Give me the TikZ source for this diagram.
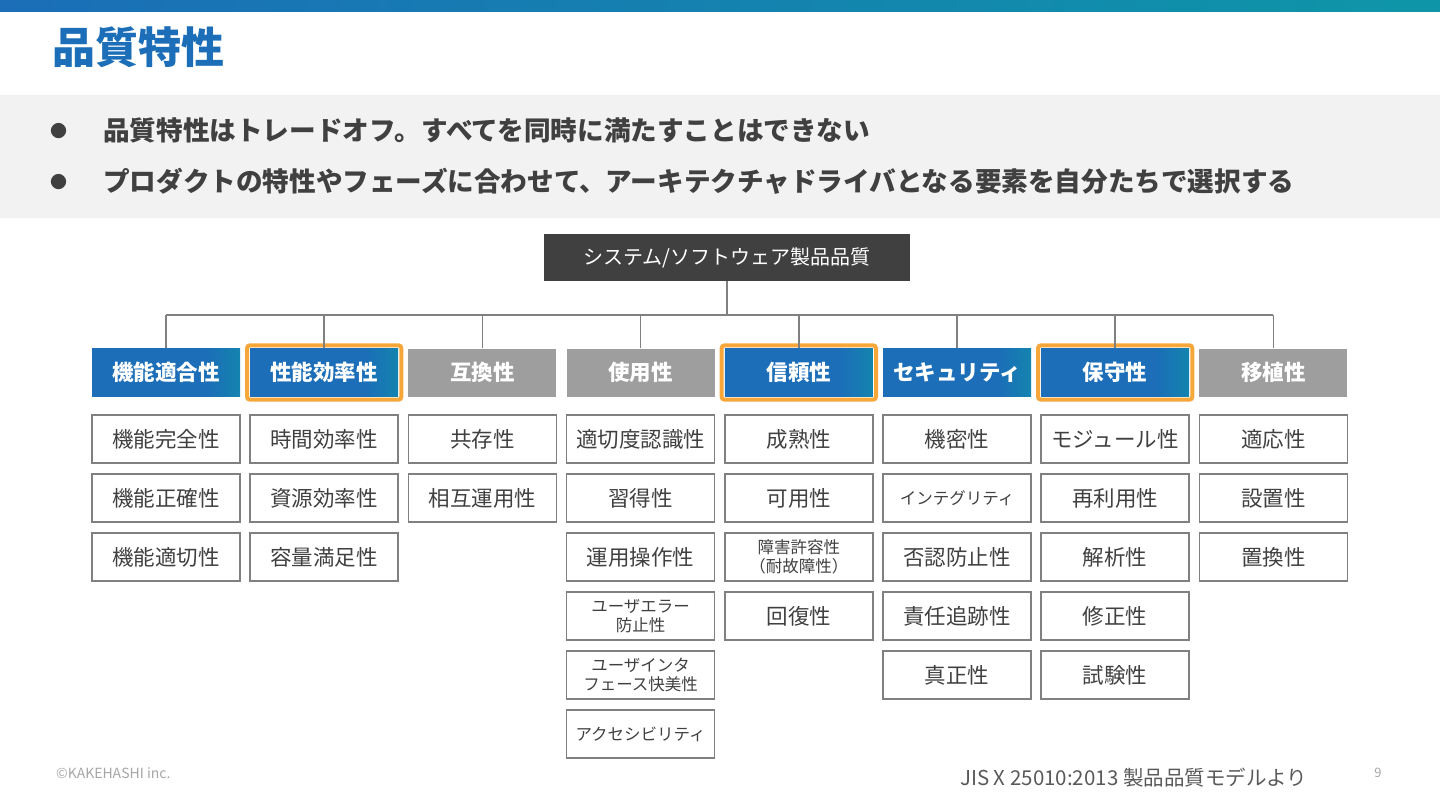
\documentclass[tikz,border=0pt]{standalone}
\usepackage{fontspec}
\setmainfont{Noto Sans CJK JP}
\definecolor{hb}{RGB}{27,110,183}
\definecolor{ht}{RGB}{14,150,168}
\definecolor{dg}{RGB}{64,64,64}
\definecolor{lg}{RGB}{128,128,128}
\definecolor{gh}{RGB}{158,158,158}
\definecolor{band}{RGB}{242,242,242}
\definecolor{org}{RGB}{247,166,58}
\definecolor{ft}{RGB}{166,166,166}
\definecolor{srcg}{RGB}{89,89,89}
\pgfdeclarehorizontalshading{hdrshade}{100bp}{color(0bp)=(hb); color(25bp)=(hb); color(64bp)=(hb); color(75bp)=(hb!45!ht); color(100bp)=(hb!45!ht)}
\begin{document}
\begin{tikzpicture}[x=1pt,y=-1pt,
  hdr/.style={minimum width=148pt,minimum height=48pt,inner sep=0pt,text=white,font=\fontsize{21.5}{24}\selectfont\bfseries},
  bluehdr/.style={hdr,shading=hdrshade},
  grayhdr/.style={hdr,fill=gh},
  sub/.style={draw=lg,line width=1.5pt,minimum width=148pt,minimum height=48pt,inner sep=0pt,text=dg,font=\fontsize{21.5}{24}\selectfont,align=center},
  subsm/.style={sub,font=\fontsize{16.5}{19.5}\selectfont},
  conn/.style={draw=lg,line width=1.5pt},
  hl/.style={draw=org,line width=4pt,rounded corners=3pt}]
\useasboundingbox (0,0) rectangle (1440,810);
% top bar
\shade[left color=hb,right color=ht] (0,0) rectangle (1440,12);
% title
\node[anchor=west,text=hb,font=\fontsize{43}{48}\selectfont\bfseries,inner sep=0pt] (title) at (52,47) {品質特性};
% band
\fill[band] (0,95) rectangle (1440,218);
\node[text=dg,font=\fontsize{17}{20}\selectfont,inner sep=0pt] (b1) at (58.5,131) {●};
\node[text=dg,font=\fontsize{17}{20}\selectfont,inner sep=0pt] (b2) at (58.5,182) {●};
\node[anchor=west,text=dg,font=\fontsize{26.6}{30}\selectfont\bfseries,inner sep=0pt] (t1) at (103,130) {品質特性はトレードオフ。すべてを同時に満たすことはできない};
\node[anchor=west,text=dg,font=\fontsize{26.6}{30}\selectfont\bfseries,inner sep=0pt] (t2) at (103,181) {プロダクトの特性やフェーズに合わせて、アーキテクチャドライバとなる要素を自分たちで選択する};
% root
\node[fill=dg,text=white,minimum width=366pt,minimum height=47pt,inner sep=0pt,font=\fontsize{20}{24}\selectfont] (root) at (727,257.5) {システム/ソフトウェア製品品質};
% headers
\node[bluehdr] (h1) at (166,372.5) {機能適合性};
\node[bluehdr] (h2) at (324.2,372.5) {性能効率性};
\node[grayhdr] (h3) at (482.4,372.5) {互換性};
\node[grayhdr] (h4) at (640.6,372.5) {使用性};
\node[bluehdr] (h5) at (798.8,372.5) {信頼性};
\node[bluehdr] (h6) at (957,372.5) {セキュリティ};
\node[bluehdr] (h7) at (1115.2,372.5) {保守性};
\node[grayhdr] (h8) at (1273.4,372.5) {移植性};
% highlights
\foreach \h in {h2,h5,h7}
  \draw[hl] ([xshift=-3pt,yshift=3pt]\h.north west) rectangle ([xshift=3pt,yshift=-3pt]\h.south east);
% connectors
\coordinate (bus) at (727,315);
\draw[conn] (root.south) -- (root.south |- bus);
\draw[conn] (h1.north |- bus) -- (h8.north |- bus);
\foreach \i in {1,...,8} \draw[conn] (h\i.north |- bus) -- (h\i.north);
% column 1
\node[sub] (s11) at (166,439) {機能完全性};
\node[sub] (s12) at (166,498) {機能正確性};
\node[sub] (s13) at (166,557) {機能適切性};
% column 2
\node[sub] (s21) at (324.2,439) {時間効率性};
\node[sub] (s22) at (324.2,498) {資源効率性};
\node[sub] (s23) at (324.2,557) {容量満足性};
% column 3
\node[sub] (s31) at (482.4,439) {共存性};
\node[sub] (s32) at (482.4,498) {相互運用性};
% column 4
\node[sub] (s41) at (640.6,439) {適切度認識性};
\node[sub] (s42) at (640.6,498) {習得性};
\node[sub] (s43) at (640.6,557) {運用操作性};
\node[subsm] (s44) at (640.6,616) {ユーザエラー\\防止性};
\node[subsm] (s45) at (640.6,675) {ユーザインタ\\フェース快美性};
\node[subsm] (s46) at (640.6,734) {アクセシビリティ};
% column 5
\node[sub] (s51) at (798.8,439) {成熟性};
\node[sub] (s52) at (798.8,498) {可用性};
\node[subsm] (s53) at (798.8,557) {障害許容性\\（耐故障性）};
\node[sub] (s54) at (798.8,616) {回復性};
% column 6
\node[sub] (s61) at (957,439) {機密性};
\node[subsm] (s62) at (957,498) {インテグリティ};
\node[sub] (s63) at (957,557) {否認防止性};
\node[sub] (s64) at (957,616) {責任追跡性};
\node[sub] (s65) at (957,675) {真正性};
% column 7
\node[sub] (s71) at (1115.2,439) {モジュール性};
\node[sub] (s72) at (1115.2,498) {再利用性};
\node[sub] (s73) at (1115.2,557) {解析性};
\node[sub] (s74) at (1115.2,616) {修正性};
\node[sub] (s75) at (1115.2,675) {試験性};
% column 8
\node[sub] (s81) at (1273.4,439) {適応性};
\node[sub] (s82) at (1273.4,498) {設置性};
\node[sub] (s83) at (1273.4,557) {置換性};
% footer
\node[anchor=west,text=ft,font=\fontsize{14}{16}\selectfont,inner sep=0pt] (copy) at (56,773) {©KAKEHASHI inc.};
\node[anchor=west,text=srcg,font=\fontsize{20.5}{24}\selectfont,inner sep=0pt] (src) at (960,778) {JIS X 25010:2013 製品品質モデルより};
\node[text=ft,font=\fontsize{13}{15}\selectfont,inner sep=0pt] (pg) at (1378,773) {9};
\end{tikzpicture}
\end{document}
